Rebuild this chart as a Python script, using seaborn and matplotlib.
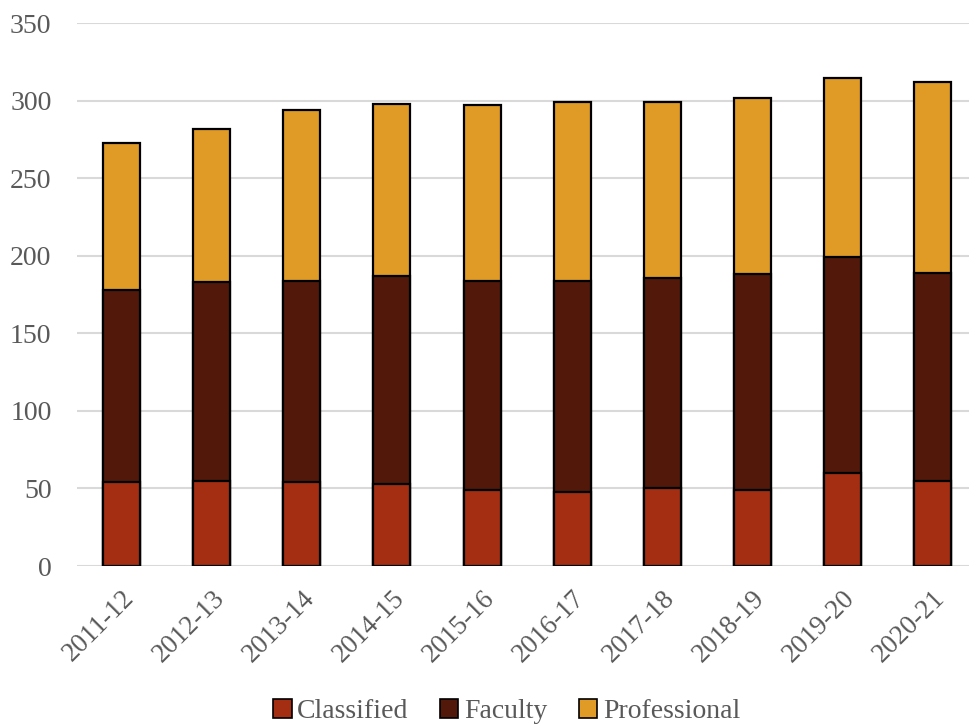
import numpy as np
import pandas as pd
import matplotlib
matplotlib.use("Agg")
import matplotlib.pyplot as plt
import seaborn as sns
from matplotlib.patches import Patch

years = ["2011-12", "2012-13", "2013-14", "2014-15", "2015-16",
         "2016-17", "2017-18", "2018-19", "2019-20", "2020-21"]
classified = [54, 55, 54, 53, 49, 48, 50, 49, 60, 55]
faculty = [124, 128, 130, 134, 135, 136, 136, 139, 139, 134]
professional = [95, 99, 110, 111, 113, 115, 113, 114, 116, 123]
series_names = ["Classified", "Faculty", "Professional"]
colors = ["#A32E11", "#52190A", "#E09A26"]
y_ticks = [0, 50, 100, 150, 200, 250, 300, 350]

sns.set_theme(style="white")
plt.rcParams["font.family"] = ["Liberation Serif", "DejaVu Serif"]
text_color = "#595959"

df = pd.DataFrame({"year": years, "Classified": classified,
                   "Faculty": faculty, "Professional": professional})
# cumulative heights for stacking: draw tallest layer first
df["cum1"] = df["Classified"]
df["cum2"] = df["cum1"] + df["Faculty"]
df["cum3"] = df["cum2"] + df["Professional"]

fig = plt.figure(figsize=(9.69, 7.28), dpi=100)
ax = fig.add_axes([0.079, 0.2225, 0.93, 0.7455])

for col, color in zip(["cum3", "cum2", "cum1"], colors[::-1]):
    sns.barplot(data=df, x="year", y=col, color=color, width=0.41,
                edgecolor="black", linewidth=1.6, saturation=1, ax=ax,
                zorder=3)

ax.set_ylim(0, 350)
ax.set_xlim(-0.5, 9.5)
ax.set_yticks(y_ticks)
ax.set_yticklabels([str(t) for t in y_ticks], fontsize=20, color=text_color)
ax.set_xticks(range(len(years)))
ax.set_xticklabels(years, rotation=45, ha="right", rotation_mode="anchor",
                   fontsize=19.5, color=text_color)
ax.tick_params(axis="y", length=0, pad=18)
ax.tick_params(axis="x", length=0, pad=14)
ax.set_xlabel("")
ax.set_ylabel("")
ax.yaxis.grid(True, color="#D9D9D9", linewidth=1.5, zorder=0)
ax.set_axisbelow(True)
for s in ax.spines.values():
    s.set_visible(False)

handles = [Patch(facecolor=c, edgecolor="black", linewidth=1.2, label=n)
           for c, n in zip(colors, series_names)]
leg = fig.legend(handles=handles, loc="center", bbox_to_anchor=(0.523, 0.022),
                 ncol=3, frameon=False, fontsize=20, handlelength=0.65,
                 handleheight=0.65, handletextpad=0.2, columnspacing=1.15)
for t in leg.get_texts():
    t.set_color(text_color)

fig.savefig("out.png", dpi=100)
